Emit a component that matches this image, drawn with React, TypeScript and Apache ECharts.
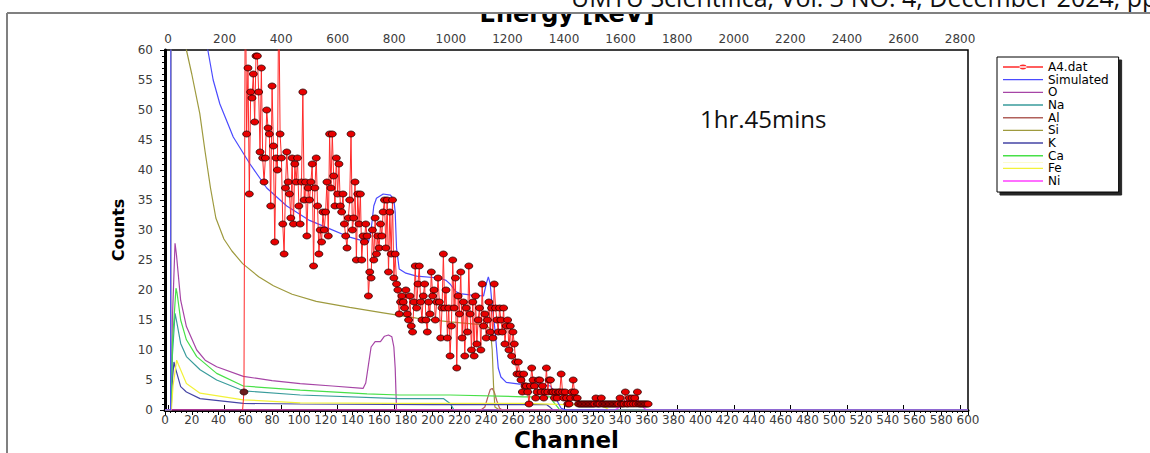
import React, { useEffect, useRef } from "react";
import * as echarts from "echarts";

// Measured spectrum (counts per channel), starting at channel 58
const channelStart = 58;
const counts = [
  0, 3, 75, 46, 57, 36, 53, 52, 56, 48,
  59, 59, 53, 43, 57, 42, 38, 42, 50, 47,
  46, 34, 54, 44, 28, 42, 40, 70, 46, 42,
  31, 26, 37, 43, 38, 36, 32, 42, 31, 41,
  38, 42, 34, 31, 38, 53, 35, 38, 29, 37,
  35, 38, 41, 24, 37, 42, 34, 26, 30, 28,
  33, 30, 33, 38, 29, 46, 37, 46, 39, 34,
  42, 36, 41, 34, 33, 36, 31, 29, 27, 32,
  35, 46, 30, 32, 38, 25, 36, 31, 36, 25,
  29, 28, 31, 29, 19, 23, 22, 30, 25, 32,
  26, 29, 27, 31, 29, 33, 35, 27, 35, 23,
  33, 26, 35, 22, 26, 21, 20, 16, 18, 19,
  18, 17, 20, 16, 15, 19, 14, 13, 18, 24,
  17, 21, 24, 18, 15, 19, 21, 15, 13, 18,
  16, 23, 19, 20, 15, 18, 22, 18, 12, 17,
  26, 17, 20, 12, 17, 9, 14, 25, 17, 22,
  7, 19, 16, 23, 12, 18, 9, 17, 13, 24,
  16, 10, 18, 9, 19, 11, 15, 17, 10, 21,
  14, 16, 12, 15, 18, 13, 17, 12, 21, 17,
  15, 13, 17, 15, 13, 17, 11, 14, 15, 10,
  14, 9, 13, 11, 8, 6, 8, 6, 5, 3,
  6, 4, 4, 3, 1, 4, 7, 5, 4, 2,
  3, 5, 5, 3, 4, 2, 3, 7, 3, 5,
  5, 3, 3, 2, 3, 2, 3, 3, 6, 3,
  2, 3, 2, 1, 1, 2, 3, 5, 3, 2,
  2, 1, 1, 1, 1, 1, 1, 1, 1, 1,
  1, 1, 1, 1, 2, 1, 1, 1, 2, 1,
  1, 1, 1, 1, 1, 1, 1, 1, 1, 1,
  1, 1, 2, 1, 1, 1, 3, 1, 1, 2,
  1, 2, 1, 2, 1, 3, 1, 1, 1, 1,
  1, 1, 1, 1,
];

// Simulated total and element contributions: [channel, counts]
const simulated = [
  [0, 0], [4.2, 0], [5, 300], [10, 160], [20, 95], [28, 68], [32, 60], [36, 55], [41, 51], [51, 45.5],
  [63.5, 41], [76, 37], [91, 34], [101, 32.6], [108, 31.6], [121, 30.4], [138, 28.8], [146, 28.3],
  [152, 28], [154, 30], [156, 34], [158, 35.3], [163, 36], [168.5, 35.8], [171, 35], [172, 33],
  [173, 27], [175, 23.5], [180, 22.8], [188, 22.3], [205, 22], [210, 21.6], [213, 21], [217, 19.8],
  [220, 19.4], [228, 19.2], [238, 19], [240, 21], [241.6, 22.2], [243, 21], [244, 18.5], [246.6, 13.3],
  [249, 7], [251, 5.5], [255, 4.6], [265, 4.3], [280, 4.3], [288, 4], [291, 3], [293, 1.5], [296, 0.3],
  [300, 0], [600, 0],
];
const oxygen = [
  [0, 0], [4.6, 0], [5.5, 15], [7.5, 27.8], [8.5, 26], [11.7, 18.3], [16, 13.9], [23.7, 10], [30, 8.3],
  [38.6, 7.2], [58.5, 5.6], [80, 4.9], [101, 4.4], [125, 4], [148, 3.6], [150, 4.5], [152, 7.5],
  [154, 10.5], [157, 11.4], [161, 11.4], [164, 12.3], [167, 12.5], [169.5, 12.2], [171, 10.5],
  [172, 7], [173, 0], [600, 0],
];
const sodium = [
  [0, 0], [4.6, 0], [5.5, 9], [7.5, 16.1], [8.5, 15], [11.7, 11.1], [16, 8.9], [26.2, 6.7],
  [38.6, 5], [58.5, 3.2], [101, 2.5], [175, 1.9], [208, 1.9], [213, 1.1], [216, 0], [600, 0],
];
const aluminium = [
  [0, 0], [236, 0], [239, 0.5], [241, 2], [243, 3.4], [244.5, 3.6], [246, 3], [248, 1.5],
  [250, 0.3], [252, 0], [600, 0],
];
const silicon = [
  [0, 0], [4.3, 0], [5, 250], [8, 150], [12, 80], [16, 60], [20, 56], [26, 49.4], [30, 43],
  [34, 37], [38, 32], [44, 28.5], [50, 26.5], [58, 24.4], [70, 22.2], [81, 20.7], [95, 19.3],
  [113, 18.1], [138, 17.1], [163, 16.2], [188, 15.3], [213, 14.7], [238, 14.2], [243, 13.6],
  [244.5, 10], [245.5, 4], [246.5, 0.5], [250, 0], [600, 0],
];
const potassium = [
  [0, 0], [4.6, 0], [5.5, 5], [6.7, 8], [8, 6.8], [11.7, 3.9], [16, 3], [26.2, 1.9], [58.5, 1.1],
  [101, 1], [200, 0.9], [285, 0.9], [288, 0.4], [290, 0], [600, 0],
];
const calcium = [
  [0, 0], [4.6, 0], [5.5, 11], [8.2, 20.3], [9, 19.5], [11.7, 15], [16, 11.7], [23.7, 8.9],
  [38.6, 6.1], [58.5, 4], [101, 3.3], [151, 2.7], [175, 2.5], [213, 2.5], [268, 2.2], [288, 2.2],
  [290, 1.4], [294, 0.3], [295, 0], [600, 0],
];
const iron = [
  [0, 0], [4.8, 0], [6, 4], [8.7, 8.3], [10, 7.6], [16, 4.4], [26.2, 2.8], [58.5, 1.7], [101, 1.2],
  [175, 1.1], [268, 1.1], [300, 0.9], [325, 0.8], [329, 0.4], [332, 0], [600, 0],
];
const nickel = [
  [0, 0], [336, 0], [340, 0.5], [343, 1.2], [346, 1.8], [349, 2.1], [352, 2], [355, 1.1],
  [358, 0.3], [360, 0], [600, 0],
];

const legendNames = ["A4.dat", "Simulated", "O", "Na", "Al", "Si", "K", "Ca", "Fe", "Ni"];
const seriesColors: Record<string, string> = {
  "A4.dat": "#ff2a2a",
  Simulated: "#4b4bff",
  O: "#a645a6",
  Na: "#3a9c9c",
  Al: "#b0605a",
  Si: "#9e9a3e",
  K: "#4545a5",
  Ca: "#48e048",
  Fe: "#f2f23a",
  Ni: "#ff40ff",
};
const channelTicks = { min: 0, max: 600, step: 20 };
const countTicks = { min: 0, max: 60, step: 5 };
const energyTicks = { min: 0, max: 2828, step: 200 };

const FONT = "DejaVu Sans";
const LABEL_COLOR = "#3c3c3c";

// legend icons: thin line across a 40x11 box (tiny corner rects keep the box extent)
const LINE_ICON = "path://M0,0 H40 V0.02 H0 Z M0,4.8 H40 V6.2 H0 Z M0,10.98 H40 V11 H0 Z";
const DOT_ICON =
  "path://M0,0 H40 V0.02 H0 Z M0,4.8 H40 V6.2 H0 Z M0,10.98 H40 V11 H0 Z M16.5,5.5 A3.5,2.4 0 1 0 23.5,5.5 A3.5,2.4 0 1 0 16.5,5.5 Z";

export default function App() {
  const ref = useRef<HTMLDivElement>(null);

  useEffect(() => {
    if (!ref.current) return;
    const chart = echarts.init(ref.current, undefined, { renderer: "svg" });

    const measured = counts.map((v, i) => {
      const ch = channelStart + i;
      if (i === 0) return { value: [ch, v], symbol: "none" };
      if (i === 1) return { value: [ch, v], itemStyle: { color: "#6b1c1c" } };
      return [ch, v];
    });

    const elementLine = (name: string, data: number[][], width = 1.2) => ({
      name,
      type: "line",
      data,
      symbol: "none",
      showSymbol: false,
      lineStyle: { color: seriesColors[name], width },
      itemStyle: { color: seriesColors[name] },
      xAxisIndex: 0,
      yAxisIndex: 0,
      clip: true,
      z: 2,
    });

    chart.setOption({
      animation: false,
      backgroundColor: "#ffffff",
      grid: [
        { left: 165, right: 182, top: 50, bottom: 43, outerBoundsMode: "none", containLabel: false, show: true, borderColor: "#000", borderWidth: 1.5, backgroundColor: "transparent" },
        { left: 168, right: 182, top: 50, bottom: 43, outerBoundsMode: "none", containLabel: false, show: false },
      ],
      xAxis: [
        {
          type: "value",
          gridIndex: 0,
          min: channelTicks.min,
          max: channelTicks.max,
          interval: channelTicks.step,
          position: "bottom",
          name: "Channel",
          nameLocation: "middle",
          nameGap: 21,
          nameMoveOverlap: false,
          nameTextStyle: { fontFamily: FONT, fontWeight: "bold", fontSize: 23, lineHeight: 18, color: "#000" },
          axisLine: { show: true, onZero: false, lineStyle: { color: "#000", width: 3 } },
          axisTick: { show: true, length: 5, lineStyle: { color: "#000", width: 1 } },
          minorTick: { show: true, splitNumber: 5, length: 3, lineStyle: { color: "#000", width: 1 } },
          axisLabel: { fontFamily: FONT, fontSize: 12, color: LABEL_COLOR, margin: 4, formatter: (v: number) => String(v) },
          splitLine: { show: false },
        },
        {
          type: "value",
          gridIndex: 1,
          min: energyTicks.min,
          max: energyTicks.max,
          interval: energyTicks.step,
          position: "top",
          axisLine: { show: false },
          axisTick: { show: true, length: 5, lineStyle: { color: "#000", width: 1 } },
          axisLabel: { fontFamily: FONT, fontSize: 12, color: LABEL_COLOR, margin: 5, showMaxLabel: false, formatter: (v: number) => String(v) },
          splitLine: { show: false },
        },
      ],
      yAxis: [
        {
          type: "value",
          gridIndex: 0,
          min: countTicks.min,
          max: countTicks.max,
          interval: countTicks.step,
          name: "Counts",
          nameLocation: "middle",
          nameRotate: 90,
          nameGap: 35,
          nameTextStyle: { fontFamily: FONT, fontWeight: "bold", fontSize: 16, color: "#000" },
          axisLine: { show: true, onZero: false, lineStyle: { color: "#000", width: 3 } },
          axisTick: { show: true, length: 5, lineStyle: { color: "#000", width: 1 } },
          minorTick: { show: true, splitNumber: 5, length: 3, lineStyle: { color: "#000", width: 1 } },
          axisLabel: { fontFamily: FONT, fontSize: 12, color: LABEL_COLOR, margin: 12 },
          splitLine: { show: false },
        },
        { type: "value", gridIndex: 1, show: false, min: 0, max: 60 },
      ],
      legend: {
        data: legendNames.map((name, i) => ({
          name,
          icon: i === 0 ? DOT_ICON : LINE_ICON,
          itemStyle: { color: seriesColors[name], borderWidth: 0 },
          lineStyle: { width: 0 },
        })),
        orient: "vertical",
        left: 997,
        top: 57,
        padding: [4, 10, 5, 6],
        itemWidth: 40,
        itemHeight: 11,
        itemGap: 0.67,
        backgroundColor: "#fff",
        borderColor: "#000",
        borderWidth: 1,
        borderRadius: 0,
        shadowColor: "rgba(0,0,0,0.85)",
        shadowBlur: 0,
        shadowOffsetX: 3,
        shadowOffsetY: 3,
        selectedMode: false,
        textStyle: { fontFamily: FONT, fontSize: 12, lineHeight: 11, color: "#000" },
      },
      series: [
        elementLine("O", oxygen),
        elementLine("Na", sodium),
        elementLine("Al", aluminium),
        elementLine("Si", silicon),
        elementLine("K", potassium),
        elementLine("Ca", calcium),
        elementLine("Fe", iron),
        elementLine("Ni", nickel),
        elementLine("Simulated", simulated),
        {
          name: "A4.dat",
          type: "line",
          data: measured,
          symbol: "circle",
          symbolSize: [8, 6],
          showSymbol: true,
          lineStyle: { color: seriesColors["A4.dat"], width: 1 },
          itemStyle: { color: "#e80000", borderColor: "#2b0000", borderWidth: 0.8 },
          clip: true,
          z: 3,
        },
      ],
      graphic: [
        {
          type: "text",
          left: 700,
          top: 106,
          style: { text: "1hr.45mins", fontFamily: "Open Sans", fontSize: 24, fill: "#111" },
          z: 10,
        },
        {
          type: "text",
          x: 567,
          y: 14,
          style: { text: "Energy [keV]", fontFamily: FONT, fontWeight: "bold", fontSize: 24, lineHeight: 14, fill: "#000", align: "center", verticalAlign: "middle" },
          z: 10,
        },
        {
          type: "rect",
          shape: { x: 0, y: 0, width: 1150, height: 13 },
          style: { fill: "#fff" },
          z: 50,
        },
        {
          type: "text",
          x: 571,
          y: -3.5,
          style: { text: "UMYU Scientifica, Vol. 3 NO. 4, December 2024, pp", fontFamily: "Open Sans", fontSize: 25, lineHeight: 10, fill: "#111", verticalAlign: "middle" },
          z: 51,
        },
        {
          type: "line",
          shape: { x1: 7, y1: 13, x2: 1150, y2: 13 },
          style: { stroke: "#808080", lineWidth: 2 },
          z: 52,
        },
        {
          type: "line",
          shape: { x1: 7, y1: 13, x2: 7, y2: 453 },
          style: { stroke: "#808080", lineWidth: 2 },
          z: 52,
        },
      ],
    });

    return () => chart.dispose();
  }, []);

  return <div ref={ref} style={{ position: "absolute", left: 0, top: 0, width: 1150, height: 453 }} />;
}
